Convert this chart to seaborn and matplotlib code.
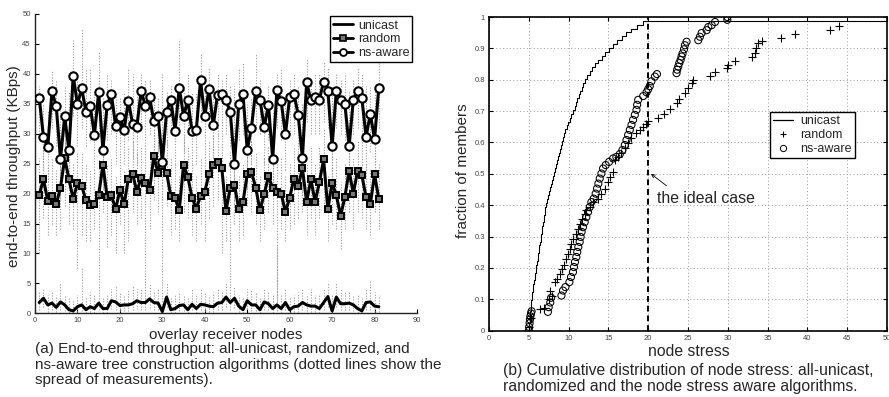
import numpy as np
import pandas as pd
import matplotlib
matplotlib.use("Agg")
import matplotlib.pyplot as plt
import seaborn as sns
from matplotlib.lines import Line2D
from matplotlib.ticker import FuncFormatter

# ---------------- data: panel (a) ----------------
nodes = list(range(1, 82))
ns_aware = [36.0,29.4,27.7,37.1,34.6,25.8,32.9,27.2,39.7,34.9,
            37.6,33.7,34.7,29.8,36.9,27.3,34.8,36.6,31.3,32.8,
            30.6,35.5,31.6,31.2,37.1,34.7,36.1,32.1,33.0,25.2,
            33.7,35.7,30.5,37.7,32.9,35.6,30.4,30.6,38.9,32.9,
            37.5,31.4,36.5,36.6,35.6,33.7,25.0,34.9,36.6,27.3,
            31.0,37.2,35.7,31.1,34.8,25.8,37.3,35.4,29.9,36.1,
            36.7,33.2,25.9,38.6,35.6,36.2,35.7,38.7,37.2,27.9,
            37.2,35.7,35.0,27.9,35.7,37.1,36.0,29.5,33.3,29.1,37.7]
random_ = [19.8,22.4,18.8,19.6,18.2,21.0,25.9,22.4,19.1,21.7,
           21.3,18.9,18.1,18.3,19.7,24.8,19.4,19.7,17.4,20.6,
           18.2,22.5,23.3,20.3,22.6,21.8,20.6,26.3,23.4,24.6,
           23.5,19.6,19.2,17.3,24.8,22.8,19.3,17.5,19.6,20.3,
           23.3,24.8,25.3,24.3,17.1,21.0,21.5,17.4,18.6,23.2,
           23.6,21.0,17.2,19.9,22.9,20.9,20.2,20.0,16.9,19.3,
           22.5,21.2,24.2,18.6,22.4,18.6,21.9,25.7,17.4,21.8,
           19.7,16.3,19.4,23.8,20.0,23.8,23.1,19.4,18.2,23.2,19.1]
unicast = [1.8,2.5,1.4,1.7,1.0,1.9,1.4,0.6,0.4,1.1,
           1.4,0.6,1.1,0.8,1.7,0.8,0.8,2.1,1.9,1.3,
           1.4,1.4,1.6,2.1,1.8,1.8,2.4,1.8,1.7,0.3,
           2.7,0.6,0.8,1.3,1.4,0.6,1.5,0.8,1.5,1.4,
           1.2,1.1,1.7,1.8,2.7,1.8,2.5,1.2,0.6,2.1,
           1.4,1.4,0.6,1.9,1.6,0.8,1.4,0.8,1.8,0.6,
           1.1,1.2,1.8,1.4,1.2,1.2,0.8,1.8,2.8,0.4,
           2.7,1.6,1.6,1.7,1.4,0.8,0.4,1.8,1.9,1.2,1.1]
# spread of measurements (dotted)
ns_hi = [38,35,34,40.5,39,35,38,37,45.6,40, 47.5,41,41,37,43.9,36,40,39,37,36,
         37,41,40,38,40,39,39,37,36,40, 37,38,36,45.8,38,40,37,37,43.3,38,
         41,36,40,39,40,38,38,41,42,35, 36,43.3,39,36,38,34,40,41,36,39,
         40,38,35,42.5,39,40,40,42,41,38, 40,39,40,37,39,41,40,38,38,38,50]
ns_lo = [30,24,22,31,28,19,27,21,33,28, 31,28,29,24,30,21,29,30,25,27,
         25,29,26,25,31,28,30,26,27,19, 28,30,25,31,27,30,25,25,32,27,
         31,26,30,30,30,28,18,29,30,21, 25,31,30,25,29,20,31,29,24,30,
         30,27,20,32,30,30,30,32,31,22, 31,30,29,22,30,31,30,24,27,23,31]
rnd_hi = [26,28,25,26,24,27,31,28,25,27, 27,25,24,24,26,30,25,26,23,27,
          24,28,29,27,28,28,27,31,29,30, 29,26,25,23,30,28,25,23,26,27,
          29,30,30,30,23,27,27,23,25,29, 29,27,23,26,28,27,26,26,23,25,
          28,27,30,25,28,25,28,31,23,28, 26,22,25,29,26,29,29,25,24,29,25]
rnd_lo = [10,16,13,15,13,14,18,15,14,7.5, 13,12,12,14,9.2,17,11,13,10,15,
          10,12,17,15,16,6.5,14,19,17,5, 18,13,14,12,17,16,13,12,15,12,
          16,18,19,10,12,10.5,15,12,13,18, 17,15,12,14,17,15,2,14,12,14,
          15,16,17,13,16,13,16,18,12,15, 14,10.7,14,17,14,17,16,14,13,17,14]
uni_hi = [3.5,4,3,3.5,3,5,3,2.5,2,3, 7.5,2.5,3.5,3,9.2,2.5,3,4,4.5,3.5,
          3,4,4.5,4,4,6.5,5,3.5,4,5, 5,2.5,3,3.5,3,2.5,4,3,4,3.5,
          3,3.5,4,3.5,5,10,4.5,3,2.5,4, 4,3.5,2.5,4,3.5,3,11.4,3,4,2.5,
          3,3.5,4,3,4,3,3,4,5,3, 5,4,3.5,3.5,3,3,2.5,4,5.5,3.5,3]
uni_lo = [0.6,1.0,0.3,0.5,0.2,0.6,0.4,0.0,0.0,0.3, 0.4,0.0,0.3,0.1,0.5,0.1,0.1,0.8,0.6,0.4,
          0.4,0.4,0.5,0.8,0.6,0.6,0.9,0.6,0.5,0.0, 1.0,0.0,0.1,0.4,0.4,0.0,0.5,0.1,0.5,0.4,
          0.3,0.3,0.5,0.6,1.0,0.6,0.9,0.3,0.0,0.8, 0.4,0.4,0.0,0.6,0.5,0.1,0.4,0.1,0.6,0.0,
          0.3,0.3,0.6,0.4,0.3,0.3,0.1,0.6,1.0,0.0, 1.0,0.5,0.5,0.5,0.4,0.1,0.0,0.6,0.6,0.3,0.3]

# ---------------- data: panel (b) ----------------
unicast_stress = [5.05,5.08,5.11,5.15,5.19,5.22,5.26,5.30,5.35,5.42,
                  5.50,5.58,5.66,5.74,5.81,5.89,5.96,6.03,6.11,6.18,
                  6.25,6.33,6.40,6.48,6.55,6.63,6.70,6.78,6.85,6.93,
                  7.00,7.08,7.20,7.32,7.45,7.57,7.70,7.82,7.95,8.08,
                  8.20,8.32,8.44,8.56,8.68,8.80,8.92,9.05,9.18,9.32,
                  9.46,9.60,9.76,9.95,10.15,10.35,10.55,10.75,10.90,11.05,
                  11.25,11.45,11.65,11.85,12.05,12.35,12.65,12.95,13.30,13.70,
                  14.15,14.60,15.10,15.60,16.10,16.65,17.25,17.85,18.60,19.40,80.0]
random_stress = [5.05,5.3,6.43,6.85,7.5,7.69,7.9,8.24,8.53,8.87,9.2,9.37,9.71,9.92,
                 10.13,10.34,10.55,10.88,11.18,11.47,11.72,12.02,12.23,12.65,13.07,
                 13.7,14.12,14.54,14.96,15.25,15.59,15.8,16.22,16.64,17.06,17.48,
                 17.9,18.53,18.95,19.37,19.75,20.0,21.26,21.97,22.73,23.56,23.9,
                 24.61,25.03,25.45,25.66,27.76,28.39,29.85,30.06,30.9,33.0,33.42,
                 33.6,33.84,34.26,36.65,38.49,42.85,44.03]
random_frac = [0.012,0.04,0.069,0.072,0.1,0.128,0.112,0.155,0.165,0.181,0.197,0.208,0.229,0.245,
               0.261,0.277,0.293,0.309,0.325,0.341,0.357,0.373,0.384,0.394,0.41,
               0.421,0.437,0.453,0.474,0.49,0.506,0.544,0.554,0.565,0.581,0.597,
               0.613,0.629,0.64,0.65,0.66,0.67,0.679,0.69,0.706,0.727,0.739,
               0.758,0.774,0.79,0.8,0.811,0.826,0.837,0.847,0.861,0.874,0.886,
               0.9,0.916,0.924,0.932,0.945,0.958,0.971]
nsaware_stress = [5.0,5.05,5.1,5.15,5.2,5.28,5.35,7.4,7.5,7.7,7.8,
                  9.1,9.3,9.6,10.1,10.3,10.55,10.67,10.8,10.97,11.09,11.22,11.39,11.51,
                  11.64,11.8,12.02,12.23,12.44,12.65,12.86,13.15,13.4,13.57,13.74,13.91,
                  14.12,14.33,14.66,15.08,15.59,16.0,16.43,16.76,17.06,17.27,17.48,17.69,
                  17.9,18.1,18.32,18.53,18.61,18.74,19.37,19.79,20.0,20.2,20.4,20.84,21.1,
                  23.56,23.64,23.77,23.9,24.07,24.19,24.32,24.49,24.61,24.82,26.29,26.5,
                  26.71,27.34,27.55,27.97,28.39,29.94,29.94]
nsaware_frac = [0.0,0.012,0.024,0.036,0.046,0.055,0.062,0.06,0.075,0.09,0.105,
                0.112,0.128,0.139,0.155,0.171,0.187,0.203,0.219,0.235,0.251,0.267,0.283,0.299,
                0.315,0.33,0.346,0.362,0.378,0.394,0.41,0.421,0.437,0.453,0.469,0.485,
                0.501,0.517,0.528,0.538,0.549,0.554,0.563,0.576,0.592,0.608,0.624,0.64,
                0.656,0.672,0.688,0.704,0.72,0.736,0.748,0.76,0.77,0.78,0.795,0.81,0.818,
                0.821,0.832,0.842,0.853,0.863,0.874,0.884,0.897,0.91,0.921,0.926,0.937,
                0.949,0.958,0.968,0.974,0.984,0.991,1.0]
ideal_stress = 20

# ---------------- style ----------------
sns.set_style("ticks")
plt.rcParams["font.family"] = ["Liberation Sans", "DejaVu Sans"]
TICKC = "#444444"
LBL = 11

W, H = 889, 397
fig = plt.figure(figsize=(W / 100, H / 100), dpi=100)

def fx(px):
    return px / W

def fy(py):
    return 1 - py / H

axL = fig.add_axes([fx(35), fy(313.3), fx(417 - 35), (313.3 - 14) / H])
axR = fig.add_axes([fx(489), fy(330.7), fx(887 - 489), (330.7 - 17) / H])

# ---------------- panel (a) ----------------
dot_kw = dict(linestyles=(0, (1, 1.5)), colors="#999999", linewidth=0.8, zorder=1)
axL.vlines(nodes, ns_lo, ns_hi, **dot_kw)
axL.vlines(nodes, rnd_lo, rnd_hi, **dot_kw)
axL.vlines(nodes, uni_lo, uni_hi, **dot_kw)

sns.lineplot(x=nodes, y=unicast, ax=axL, color="black", linewidth=2.2, zorder=3)
sns.lineplot(x=nodes, y=random_, ax=axL, color="black", linewidth=2.2, marker="s",
             markersize=5, markerfacecolor="#777777", markeredgecolor="black",
             markeredgewidth=1.4, zorder=3)
sns.lineplot(x=nodes, y=ns_aware, ax=axL, color="black", linewidth=2.2, marker="o",
             markersize=6, markerfacecolor="white", markeredgecolor="black",
             markeredgewidth=1.5, zorder=4)

axL.set_xlim(0, 90)
axL.set_ylim(0, 50)
axL.set_xticks(range(0, 91, 10))
axL.set_yticks(range(0, 51, 5))
axL.tick_params(direction="in", length=3, width=0.8, labelsize=5.5,
                labelcolor=TICKC, color="black", pad=3)
for s in ["top", "right"]:
    axL.spines[s].set_visible(False)
for s in ["left", "bottom"]:
    axL.spines[s].set_linewidth(1.0)
    axL.spines[s].set_color("#222222")
axL.set_xlabel("")
axL.set_ylabel("")

hL = [Line2D([], [], color="black", lw=2, label="unicast"),
      Line2D([], [], color="black", lw=2, marker="s", ms=4, mfc="#777777",
             mec="black", mew=1.2, label="random"),
      Line2D([], [], color="black", lw=2, marker="o", ms=5, mfc="white",
             mec="black", mew=1.3, label="ns-aware")]
legL = axL.legend(handles=hL, loc="upper right", bbox_to_anchor=(0.988, 0.992),
                  fontsize=9, frameon=True, fancybox=False, framealpha=1,
                  edgecolor="black", handlelength=1.6, handletextpad=0.4,
                  borderpad=0.25, labelspacing=0.15, borderaxespad=0)
legL.get_frame().set_linewidth(1.0)

# ---------------- panel (b) ----------------
axR.grid(True, linestyle=(0, (1, 2.5)), color="#9a9a9a", linewidth=0.7)
sns.ecdfplot(x=unicast_stress, ax=axR, color="black", linewidth=0.8, zorder=3)
axR.axvline(ideal_stress, color="black", linestyle=(0, (3, 2)), linewidth=1.4, zorder=2)
sns.scatterplot(x=random_stress, y=random_frac, ax=axR, marker="+", color="black",
                s=28, linewidth=0.8, zorder=4, legend=False)
sns.scatterplot(x=nsaware_stress, y=nsaware_frac, ax=axR, marker="o",
                facecolor="none", edgecolor="black", s=26, linewidth=0.75,
                zorder=4, legend=False)

axR.set_xlim(0, 50)
axR.set_ylim(0, 1)
axR.set_xticks(range(0, 51, 5))
axR.set_yticks(np.arange(0, 1.01, 0.1))
axR.yaxis.set_major_formatter(FuncFormatter(lambda v, p: "%g" % round(v, 1)))
axR.tick_params(direction="in", length=3, width=0.8, labelsize=5.5,
                labelcolor=TICKC, color="black", top=True, right=True, pad=3)
for s in axR.spines.values():
    s.set_linewidth(1.2)
    s.set_color("black")
axR.set_xlabel("")
axR.set_ylabel("")

axR.annotate("", xy=(20.35, 0.50), xytext=(22.3, 0.462),
             arrowprops=dict(arrowstyle="->", color="black", lw=0.6,
                             shrinkA=0, shrinkB=0, mutation_scale=6))
axR.text(21.05, 0.423, "the ideal case", fontsize=11.4, va="center", ha="left")

hR = [Line2D([], [], color="black", lw=0.9, label="unicast"),
      Line2D([], [], color="black", lw=0, marker="+", ms=5, mew=0.8, label="random"),
      Line2D([], [], color="black", lw=0, marker="o", ms=4.5, mfc="none", mew=0.7,
             label="ns-aware")]
legR = axR.legend(handles=hR, loc="upper right", bbox_to_anchor=(0.92, 0.697),
                  fontsize=9, frameon=True, fancybox=False, framealpha=1,
                  edgecolor="black", handlelength=1.6, handletextpad=0.6,
                  borderpad=0.25, labelspacing=0.15, borderaxespad=0)
legR.get_frame().set_linewidth(1.0)

# ---------------- labels & captions ----------------
fig.text(fx(14), fy(166), "end-to-end throughput (KBps)", rotation=90,
         ha="center", va="center", fontsize=LBL)
fig.text(fx(226), fy(335), "overlay receiver nodes", ha="center", va="center", fontsize=LBL)
fig.text(fx(463), fy(171), "fraction of members", rotation=90,
         ha="center", va="center", fontsize=LBL)
fig.text(fx(689), fy(352), "node stress", ha="center", va="center", fontsize=11.3)

capA = ["(a) End-to-end throughput: all-unicast, randomized, and",
        "ns-aware tree construction algorithms (dotted lines show the",
        "spread of measurements)."]
for i, line in enumerate(capA):
    fig.text(fx(35), fy(349 + 15.5 * i), line, ha="left", va="center", fontsize=11.0)
capB = ["(b) Cumulative distribution of node stress: all-unicast,",
        "randomized and the node stress aware algorithms."]
for i, line in enumerate(capB):
    fig.text(fx(503), fy(370 + 17 * i), line, ha="left", va="center", fontsize=11.3)

fig.savefig("out.png", dpi=100)
